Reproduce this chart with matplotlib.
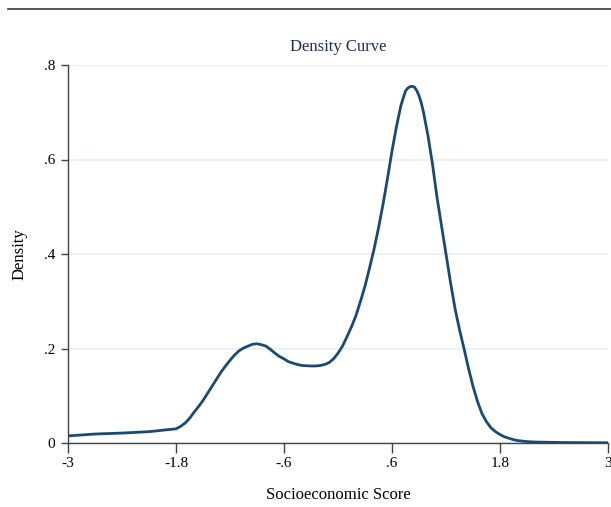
import matplotlib.pyplot as plt
from matplotlib.lines import Line2D

# density curve values
score = [-3.0, -2.7, -2.4, -2.1, -1.8, -1.75, -1.7, -1.65, -1.6, -1.55, -1.5, -1.45,
         -1.4, -1.35, -1.3, -1.25, -1.2, -1.15, -1.1, -1.05, -1.0, -0.95, -0.9, -0.85,
         -0.8, -0.75, -0.7, -0.65, -0.6, -0.55, -0.5, -0.45, -0.4, -0.3, -0.25, -0.2,
         -0.15, -0.1, -0.05, 0.0, 0.05, 0.1, 0.15, 0.2, 0.25, 0.3, 0.35, 0.4,
         0.45, 0.5, 0.55, 0.6, 0.65, 0.7, 0.75, 0.775, 0.8, 0.825, 0.85, 0.875,
         0.9, 0.925, 0.95, 1.0, 1.05, 1.1, 1.15, 1.2, 1.25, 1.3, 1.35, 1.4,
         1.45, 1.5, 1.55, 1.6, 1.65, 1.7, 1.75, 1.8, 1.85, 1.9, 1.95, 2.0,
         2.1, 2.2, 2.5, 3.0]
density = [0.015, 0.019, 0.021, 0.024, 0.030, 0.035, 0.042, 0.052, 0.065, 0.077, 0.090, 0.105,
           0.120, 0.135, 0.150, 0.163, 0.175, 0.186, 0.195, 0.201, 0.205, 0.209, 0.210, 0.208,
           0.205, 0.198, 0.190, 0.183, 0.178, 0.172, 0.169, 0.166, 0.164, 0.163, 0.163, 0.164,
           0.166, 0.170, 0.178, 0.190, 0.205, 0.225, 0.246, 0.270, 0.300, 0.332, 0.370, 0.410,
           0.455, 0.505, 0.560, 0.618, 0.670, 0.715, 0.745, 0.751, 0.754, 0.755, 0.753, 0.746,
           0.735, 0.720, 0.700, 0.650, 0.590, 0.520, 0.460, 0.400, 0.340, 0.285, 0.240, 0.200,
           0.158, 0.120, 0.088, 0.062, 0.045, 0.032, 0.024, 0.018, 0.013, 0.010, 0.007, 0.005,
           0.003, 0.002, 0.001, 0.0005]

xticks = [-3, -1.8, -0.6, 0.6, 1.8, 3]
xtick_labels = ["-3", "-1.8", "-.6", ".6", "1.8", "3"]
yticks = [0, 0.2, 0.4, 0.6, 0.8]
ytick_labels = ["0", ".2", ".4", ".6", ".8"]

plt.rcParams['font.family'] = ['Liberation Serif', 'DejaVu Serif']

fig = plt.figure(figsize=(6.11, 5.07), dpi=100)
ax = fig.add_axes([68/611, 1 - 443/507, 540/611, 378/507])

# the rule across the top of the page
fig.add_artist(Line2D([8/611, 1], [1 - 9/507, 1 - 9/507], color='#3a3a3a', lw=1.2))

ax.plot(score, density, color='#1a4a72', lw=2, solid_joinstyle='round')

ax.set_xlim(-3, 3)
ax.set_ylim(0, 0.8)
ax.set_xticks(xticks)
ax.set_xticklabels(xtick_labels)
ax.set_yticks(yticks)
ax.set_yticklabels(ytick_labels)

ax.grid(axis='y', color='#eaf2f4', lw=1.5)
ax.set_axisbelow(True)
for s in ['top', 'right']:
    ax.spines[s].set_visible(False)
for s in ['left', 'bottom']:
    ax.spines[s].set_color('#444444')
    ax.spines[s].set_linewidth(1.0)

ax.tick_params(axis='x', length=7, width=1, color='#444444', labelsize=11, pad=3)
ax.tick_params(axis='y', length=5, width=1, color='#444444', labelsize=11, pad=4)

ax.set_title("Density Curve", fontsize=12, color='#1e2f4f', pad=10)
ax.set_xlabel("Socioeconomic Score", fontsize=12, labelpad=12)
ax.set_ylabel("Density", fontsize=12, labelpad=12)

fig.savefig("out.png", dpi=100)
